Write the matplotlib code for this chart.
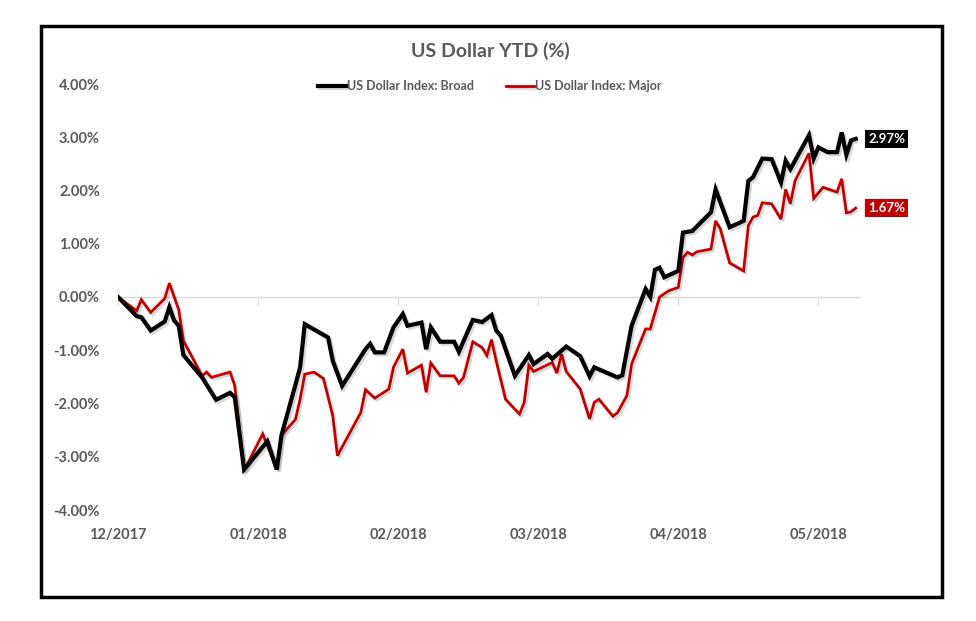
import datetime as dt
import matplotlib
matplotlib.use('Agg')
import matplotlib.pyplot as plt
import matplotlib.patheffects as pe
from matplotlib.patches import Rectangle
from matplotlib.ticker import FuncFormatter

plt.rcParams['font.family'] = ['Lato', 'DejaVu Sans']

# 起点 2017/12/29 からの日数とYTD(%)
start = dt.datetime(2017, 12, 29)

broad_days = [0, 4, 5, 7, 10, 11, 12, 13, 14, 18, 21, 24, 25, 27, 32, 34, 35, 38, 39, 40,
              45, 46, 48, 53, 54, 55, 57, 59, 61, 62, 65, 66, 67, 69, 72, 73, 76, 78, 80, 81,
              82, 85, 88, 89, 92, 93, 96, 99, 101, 102, 107, 108, 110, 113, 114, 115, 116, 117, 120, 121,
              123, 127, 128, 129, 131, 134, 135, 136, 138, 140, 142, 143, 144, 148, 149, 150, 152, 154, 155, 156,
              157, 158]
broad_vals = [0.00, -0.36, -0.38, -0.63, -0.46, -0.19, -0.44, -0.54, -1.09, -1.51, -1.93, -1.80, -1.88, -3.24, -2.71, -3.24, -2.60, -1.65, -1.32, -0.51,
              -0.76, -1.20, -1.67, -0.98, -0.88, -1.04, -1.04, -0.57, -0.32, -0.54, -0.48, -0.98, -0.57, -0.84, -0.84, -1.03, -0.43, -0.47, -0.34, -0.63,
              -0.73, -1.48, -1.09, -1.26, -1.07, -1.16, -0.93, -1.11, -1.49, -1.32, -1.51, -1.47, -0.54, 0.15, 0.00, 0.51, 0.55, 0.37, 0.49, 1.21,
              1.24, 1.59, 2.02, 1.78, 1.31, 1.43, 2.18, 2.25, 2.60, 2.59, 2.15, 2.56, 2.40, 3.04, 2.60, 2.81, 2.72, 2.72, 3.09, 2.67,
              2.94, 2.97]

major_days = [0, 4, 5, 7, 10, 11, 13, 14, 18, 19, 20, 24, 25, 27, 31, 34, 35, 38, 39, 40,
              42, 44, 46, 47, 52, 53, 55, 58, 59, 61, 62, 65, 66, 67, 69, 72, 73, 74, 76, 78,
              79, 80, 81, 83, 86, 87, 88, 89, 93, 94, 95, 96, 99, 101, 102, 103, 106, 107, 109, 110,
              113, 114, 116, 118, 120, 121, 122, 123, 124, 127, 128, 129, 131, 134, 135, 136, 137, 138, 140, 142,
              143, 144, 145, 148, 149, 151, 154, 155, 156, 157, 158]
major_vals = [0.00, -0.26, -0.05, -0.29, -0.03, 0.26, -0.24, -0.82, -1.48, -1.41, -1.51, -1.41, -1.66, -3.26, -2.57, -3.23, -2.60, -2.30, -1.92, -1.45,
              -1.41, -1.53, -2.23, -2.98, -2.17, -1.74, -1.90, -1.73, -1.32, -0.98, -1.43, -1.28, -1.79, -1.24, -1.48, -1.48, -1.62, -1.51, -0.84, -0.95,
              -1.10, -0.80, -1.20, -1.92, -2.20, -1.98, -1.28, -1.40, -1.23, -1.43, -1.07, -1.40, -1.73, -2.29, -1.98, -1.92, -2.24, -2.17, -1.85, -1.26,
              -0.60, -0.60, 0.00, 0.12, 0.18, 0.74, 0.84, 0.79, 0.85, 0.90, 1.43, 1.28, 0.64, 0.49, 1.34, 1.50, 1.53, 1.77, 1.75, 1.46,
              2.02, 1.75, 2.18, 2.70, 1.85, 2.06, 1.97, 2.22, 1.58, 1.60, 1.67]

tick_days = [0, 30, 60, 90, 120, 150]
tick_labels = ['12/2017', '01/2018', '02/2018', '03/2018', '04/2018', '05/2018']
y_ticks = [-4, -3, -2, -1, 0, 1, 2, 3, 4]

series_names = ['US Dollar Index: Broad', 'US Dollar Index: Major']
series_colors = ['#000000', '#C00000']

to_date = lambda d: start + dt.timedelta(days=d)
broad_x = [to_date(d) for d in broad_days]
major_x = [to_date(d) for d in major_days]

gray = '#595959'
fig = plt.figure(figsize=(9.76, 6.21), dpi=100)
ax = fig.add_axes([118 / 976, 111 / 621, 740.5 / 976, 426 / 621])

shadow = [pe.SimpleLineShadow(offset=(1.5, -1.5), alpha=0.2, shadow_color='#404040'), pe.Normal()]
ax.plot(broad_x, broad_vals, color=series_colors[0], lw=3.0, label=series_names[0],
        solid_joinstyle='miter', path_effects=shadow, zorder=4)
ax.plot(major_x, major_vals, color=series_colors[1], lw=2.0, label=series_names[1],
        solid_joinstyle='miter', path_effects=shadow, zorder=3)

ax.set_xlim(to_date(0), to_date(158.6))
ax.set_ylim(-4, 4)

for s in ['left', 'right', 'bottom']:
    ax.spines[s].set_visible(False)
# ゼロ線を軸線として使う
ax.spines['top'].set_position(('data', 0))
ax.spines['top'].set_color('#D9D9D9')
ax.spines['top'].set_linewidth(1.0)

ax.set_xticks([to_date(d) for d in tick_days])
ax.set_xticklabels(tick_labels)
ax.tick_params(axis='x', which='both', top=True, bottom=False, labeltop=False, labelbottom=True,
               direction='in', length=6, color='#D9D9D9', pad=13, labelsize=10.5, labelcolor=gray)
for lbl in ax.get_xticklabels():
    lbl.set_fontweight('bold')

ax.set_yticks(y_ticks)
ax.yaxis.set_major_formatter(FuncFormatter(lambda v, p: f'{v:.2f}%'))
ax.tick_params(axis='y', length=0, pad=13, labelsize=10.5, labelcolor=gray)
for lbl in ax.get_yticklabels():
    lbl.set_fontweight('bold')

fig.text(490 / 976, 1 - 51 / 621, 'US Dollar YTD (%)', ha='center', va='center',
         fontsize=14, fontweight='bold', color=gray)

leg = fig.legend(loc='center', bbox_to_anchor=(490 / 976, 1 - 86 / 621), ncol=2, frameon=False,
                 fontsize=9, handlelength=2.2, handletextpad=0.1, columnspacing=2.6)
for t in leg.get_texts():
    t.set_color(gray)
    t.set_fontweight('bold')

# 最終値のラベル
for xs, ys, c in [(broad_x, broad_vals, series_colors[0]), (major_x, major_vals, series_colors[1])]:
    ax.annotate(f'{ys[-1]:.2f}%', xy=(xs[-1], ys[-1]), xytext=(9, 0), textcoords='offset points',
                ha='left', va='center', fontsize=9.5, fontweight='bold', color='white', annotation_clip=False,
                bbox=dict(boxstyle='square,pad=0.25', fc=c, ec='none'))

# 外枠
fig.add_artist(Rectangle((41 / 976, 1 - 597 / 621), 901 / 976, 571 / 621, transform=fig.transFigure,
                         fill=False, ec='black', lw=2.5))

fig.savefig('out.png', dpi=100, facecolor='white')
